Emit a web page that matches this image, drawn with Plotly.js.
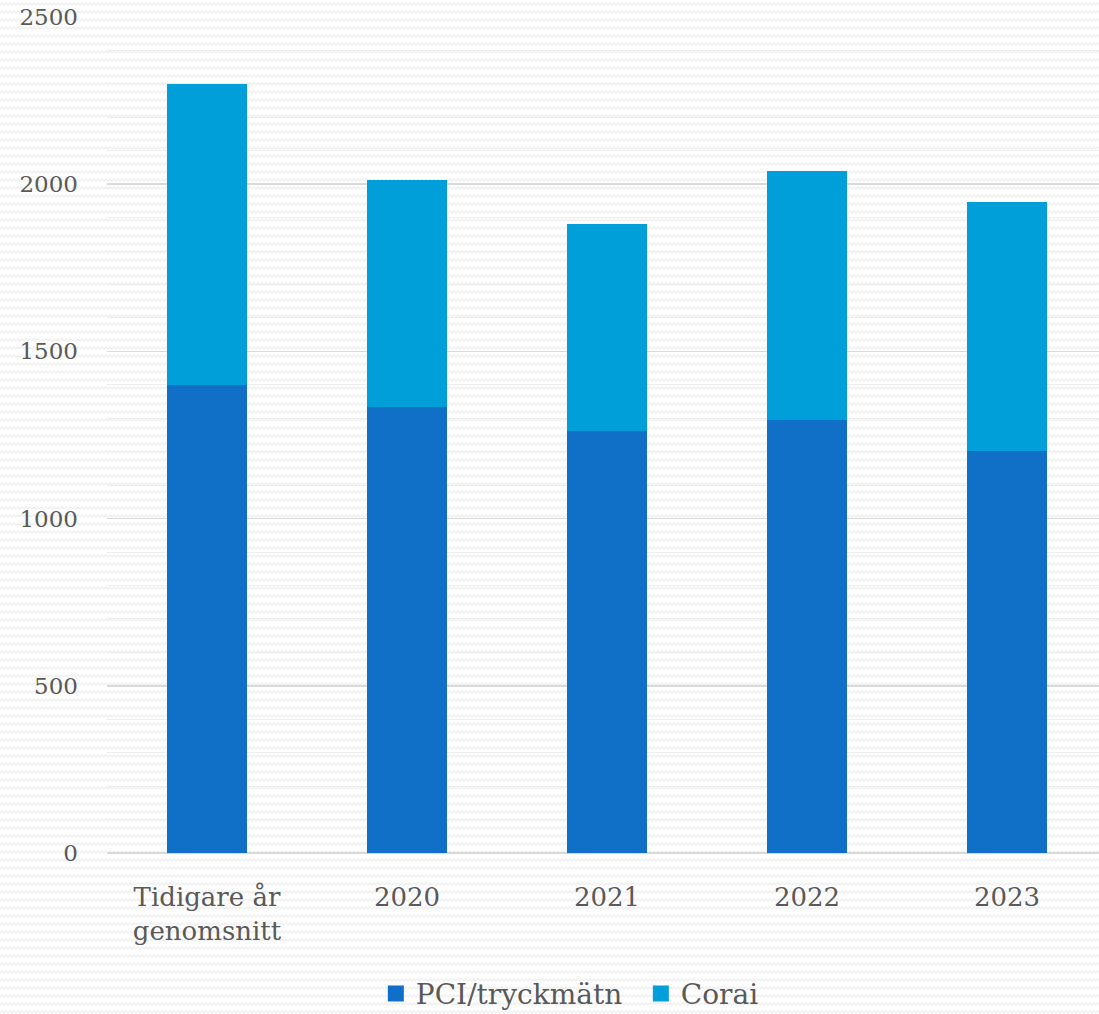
<!DOCTYPE html>
<html>
<head>
<meta charset="utf-8">
<script src="https://cdn.plot.ly/plotly-3.0.1.min.js"></script>
<style>
  html, body { margin: 0; padding: 0; }
  body {
    width: 1099px; height: 1014px; overflow: hidden;
    background-color: #ffffff;
    background-image: url("data:image/svg+xml;utf8,<svg xmlns='http://www.w3.org/2000/svg' width='8' height='8'><polyline points='0,5 2,3 4,5 6,3 8,5' fill='none' stroke='%23efefef' stroke-width='1.3'/></svg>");
    background-size: 8px 8px;
  }
  #chart { width: 1099px; height: 1014px; }
</style>
</head>
<body>
<div id="chart"></div>
<script>
// Categories and stacked series (number of procedures)
const categories = ["Tidigare år<br>genomsnitt", "2020", "2021", "2022", "2023"];
const pciValues = [1400, 1334, 1262, 1295, 1202];
const coraiValues = [900, 679, 619, 744, 745];
const seriesNames = ["PCI/tryckmätn", "Corai"];
const seriesColors = ["#1070c8", "#009fd9"];
const yTicks = [0, 500, 1000, 1500, 2000, 2500];

const textColor = "#595959";
const serif = "DejaVu Serif";

const traces = [
  {
    type: "bar",
    name: seriesNames[0],
    x: categories,
    y: pciValues,
    width: 0.4,
    marker: { color: seriesColors[0] },
    showlegend: false
  },
  {
    type: "bar",
    name: seriesNames[1],
    x: categories,
    y: coraiValues,
    width: 0.4,
    marker: { color: seriesColors[1] },
    showlegend: false
  }
];

// legend keys drawn as larger squares
seriesNames.forEach((name, i) => {
  traces.push({
    type: "scatter",
    mode: "markers",
    name: name,
    x: [null],
    y: [null],
    marker: { symbol: "square", size: 18, color: seriesColors[i] },
    showlegend: true
  });
});

const layout = {
  width: 1099,
  height: 1014,
  barmode: "stack",
  paper_bgcolor: "rgba(0,0,0,0)",
  plot_bgcolor: "rgba(0,0,0,0)",
  margin: { l: 107, r: 0, t: 17, b: 161, autoexpand: false },
  font: { family: serif, color: textColor },
  xaxis: {
    type: "category",
    range: [-0.5, 4.46],
    showgrid: false,
    showline: false,
    zeroline: false,
    ticks: "",
    tickfont: { family: serif, size: 26, color: textColor },
    ticklabelstandoff: 26
  },
  yaxis: {
    range: [0, 2500],
    tickvals: yTicks,
    ticktext: yTicks.map(String),
    showgrid: true,
    gridcolor: "#d9d9d9",
    gridwidth: 1.5,
    zeroline: true,
    zerolinecolor: "#d9d9d9",
    zerolinewidth: 1.5,
    showline: false,
    ticks: "",
    tickfont: { family: serif, size: 23, color: textColor },
    ticklabelstandoff: 28,
    minor: { dtick: 100, showgrid: true, gridcolor: "#eeeeee", gridwidth: 1 }
  },
  showlegend: true,
  legend: {
    orientation: "h",
    x: 0.271,
    xanchor: "left",
    y: -0.1685,
    yanchor: "middle",
    font: { family: serif, size: 28, color: textColor },
    itemsizing: "trace",
    traceorder: "normal",
    itemwidth: 30,
    entrywidth: 220
  },
  bargap: 0.6
};

Plotly.newPlot("chart", traces, layout, { displayModeBar: false, staticPlot: true });
</script>
</body>
</html>
